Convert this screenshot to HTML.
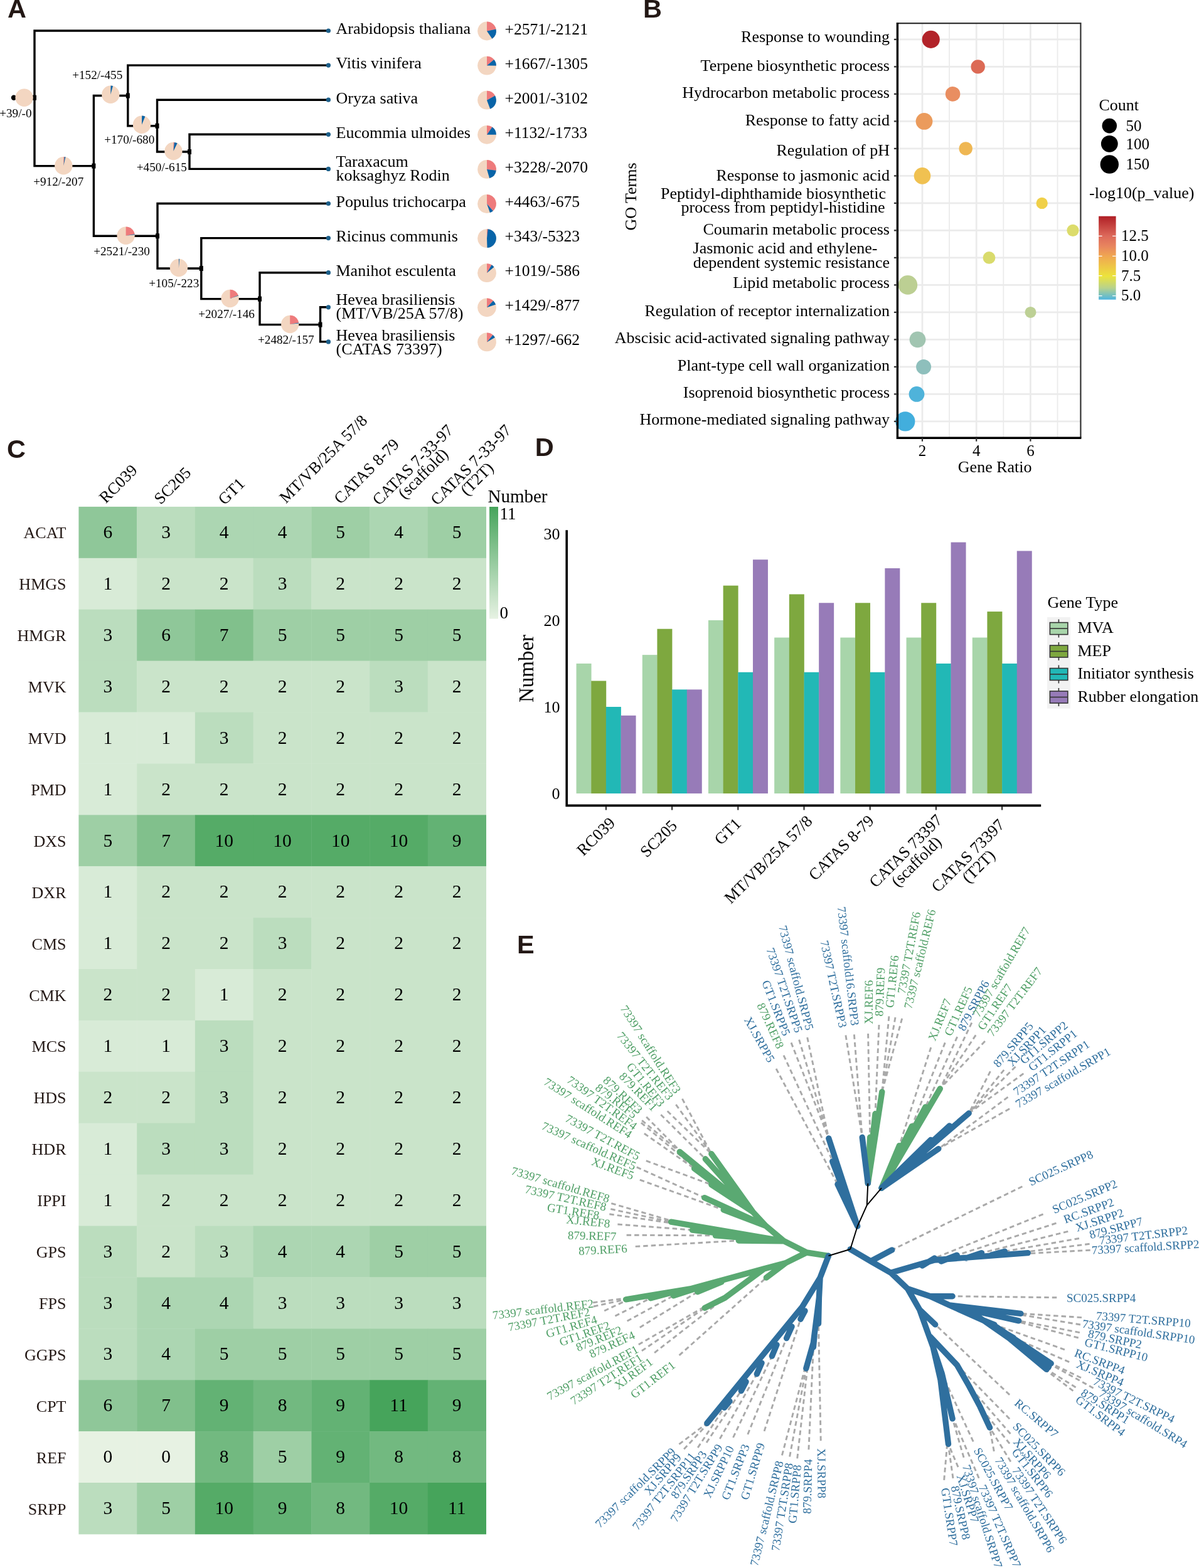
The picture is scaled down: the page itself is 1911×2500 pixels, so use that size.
<!DOCTYPE html>
<html><head><meta charset="utf-8"><title>Figure</title>
<style>html,body{margin:0;padding:0;background:#fff;}svg{display:block;}</style></head>
<body><svg width="1911" height="2500" viewBox="0 0 1911 2500" font-family="'Liberation Serif','Times New Roman',serif">
<rect width="1911" height="2500" fill="#fff"/>
<text x="12.0" y="27.9" font-size="41.5" font-weight="bold" font-family="'Liberation Sans',Arial,sans-serif" fill="#231815">A</text><text x="1025.0" y="27.9" font-size="41.5" font-weight="bold" font-family="'Liberation Sans',Arial,sans-serif" fill="#231815">B</text><text x="11.0" y="729.6" font-size="41.5" font-weight="bold" font-family="'Liberation Sans',Arial,sans-serif" fill="#231815">C</text><text x="852.8" y="726.8" font-size="41.5" font-weight="bold" font-family="'Liberation Sans',Arial,sans-serif" fill="#231815">D</text><text x="824.0" y="1520.4" font-size="41.5" font-weight="bold" font-family="'Liberation Sans',Arial,sans-serif" fill="#231815">E</text><path d="M22.0,155.7H55.0M55.0,49.0V264.6M55.0,49.0H523.4M55.0,264.6H149.4M149.4,152.5V376.3M149.4,152.5H203.8M203.8,104.1V200.7M203.8,104.1H523.4M203.8,200.7H250.5M250.5,159.2V242.0M250.5,159.2H523.4M250.5,242.0H302.0M302.0,214.3V269.4M302.0,214.3H523.4M302.0,269.4H523.4M149.4,376.3H251.0M251.0,324.5V428.0M251.0,324.5H523.4M251.0,428.0H320.8M320.8,379.6V476.6M320.8,379.6H523.4M320.8,476.6H414.0M414.0,434.7V517.6M414.0,434.7H523.4M414.0,517.6H510.5M510.5,489.8V544.9M510.5,489.8H523.4M510.5,544.9H523.4" stroke="#000" stroke-width="3.4" fill="none" stroke-linecap="square"/><rect x="52.0" y="151.7" width="6" height="8" fill="#000"/><rect x="146.4" y="260.6" width="6" height="8" fill="#000"/><rect x="200.8" y="148.5" width="6" height="8" fill="#000"/><rect x="247.5" y="196.7" width="6" height="8" fill="#000"/><rect x="299.0" y="238.0" width="6" height="8" fill="#000"/><rect x="248.0" y="372.3" width="6" height="8" fill="#000"/><rect x="317.8" y="424.0" width="6" height="8" fill="#000"/><rect x="411.0" y="472.6" width="6" height="8" fill="#000"/><rect x="507.5" y="513.6" width="6" height="8" fill="#000"/><circle cx="22" cy="155.7" r="4.2" fill="#000"/><circle cx="38.6" cy="155.7" r="14.2" fill="#f3d6c1"/><path d="M38.60,155.70L38.60,141.50A14.2,14.2 0 0 1 38.67,141.50Z" fill="#ee7b7c"/><circle cx="101.3" cy="264.2" r="14.2" fill="#f3d6c1"/><path d="M101.30,264.20L101.30,250.00A14.2,14.2 0 0 1 102.78,250.08Z" fill="#ee7b7c"/><path d="M101.30,264.20L102.78,250.08A14.2,14.2 0 0 1 104.49,250.36Z" fill="#0864a8"/><circle cx="176.3" cy="150.7" r="14.2" fill="#f3d6c1"/><path d="M176.30,150.70L176.30,136.50A14.2,14.2 0 0 1 176.55,136.50Z" fill="#ee7b7c"/><path d="M176.30,150.70L176.55,136.50A14.2,14.2 0 0 1 179.98,136.98Z" fill="#0864a8"/><circle cx="226.0" cy="198.8" r="14.2" fill="#f3d6c1"/><path d="M226.00,198.80L226.00,184.60A14.2,14.2 0 0 1 226.12,184.60Z" fill="#ee7b7c"/><path d="M226.00,198.80L226.12,184.60A14.2,14.2 0 0 1 231.32,185.63Z" fill="#0864a8"/><circle cx="276.4" cy="241.0" r="14.2" fill="#f3d6c1"/><path d="M276.40,241.00L276.40,226.80A14.2,14.2 0 0 1 277.88,226.88Z" fill="#ee7b7c"/><path d="M276.40,241.00L277.88,226.88A14.2,14.2 0 0 1 282.62,228.24Z" fill="#0864a8"/><circle cx="200.6" cy="375.7" r="14.2" fill="#f3d6c1"/><path d="M200.60,375.70L200.60,361.50A14.2,14.2 0 0 1 214.58,373.23Z" fill="#ee7b7c"/><path d="M200.60,375.70L214.58,373.23A14.2,14.2 0 0 1 214.72,374.22Z" fill="#0864a8"/><circle cx="284.9" cy="427.0" r="14.2" fill="#f3d6c1"/><path d="M284.90,427.00L284.90,412.80A14.2,14.2 0 0 1 285.02,412.80Z" fill="#ee7b7c"/><path d="M284.90,427.00L285.02,412.80A14.2,14.2 0 0 1 286.14,412.85Z" fill="#0864a8"/><circle cx="366.6" cy="476.0" r="14.2" fill="#f3d6c1"/><path d="M366.60,476.00L366.60,461.80A14.2,14.2 0 0 1 379.77,470.68Z" fill="#ee7b7c"/><path d="M366.60,476.00L379.77,470.68A14.2,14.2 0 0 1 380.03,471.38Z" fill="#0864a8"/><circle cx="462.2" cy="517.0" r="14.2" fill="#f3d6c1"/><path d="M462.20,517.00L462.20,502.80A14.2,14.2 0 0 1 476.18,514.53Z" fill="#ee7b7c"/><path d="M462.20,517.00L476.18,514.53A14.2,14.2 0 0 1 476.31,515.39Z" fill="#0864a8"/><text x="-0.8" y="187.0" font-size="19.2">+39/-0</text><text x="53.2" y="296.0" font-size="19.2">+912/-207</text><text x="115.2" y="125.7" font-size="19.2">+152/-455</text><text x="166.2" y="228.6" font-size="19.2">+170/-680</text><text x="217.8" y="273.0" font-size="19.2">+450/-615</text><text x="149.2" y="406.6" font-size="19.2">+2521/-230</text><text x="237.2" y="457.7" font-size="19.2">+105/-223</text><text x="316.2" y="507.0" font-size="19.2">+2027/-146</text><text x="411.0" y="547.5" font-size="19.2">+2482/-157</text><circle cx="523.4" cy="49.0" r="3.6" fill="#1c5f8a"/><circle cx="523.4" cy="104.1" r="3.6" fill="#1c5f8a"/><circle cx="523.4" cy="159.2" r="3.6" fill="#1c5f8a"/><circle cx="523.4" cy="214.3" r="3.6" fill="#1c5f8a"/><circle cx="523.4" cy="269.4" r="3.6" fill="#1c5f8a"/><circle cx="523.4" cy="324.5" r="3.6" fill="#1c5f8a"/><circle cx="523.4" cy="379.6" r="3.6" fill="#1c5f8a"/><circle cx="523.4" cy="434.7" r="3.6" fill="#1c5f8a"/><circle cx="523.4" cy="489.8" r="3.6" fill="#1c5f8a"/><circle cx="523.4" cy="544.9" r="3.6" fill="#1c5f8a"/><text x="535.5" y="54.3" font-size="26">Arabidopsis thaliana</text><text x="535.5" y="109.4" font-size="26">Vitis vinifera</text><text x="535.5" y="164.5" font-size="26">Oryza sativa</text><text x="535.5" y="219.6" font-size="26">Eucommia ulmoides</text><text x="535.5" y="329.8" font-size="26">Populus trichocarpa</text><text x="535.5" y="384.9" font-size="26">Ricinus communis</text><text x="535.5" y="440.0" font-size="26">Manihot esculenta</text><text x="535.5" y="265.9" font-size="26">Taraxacum</text><text x="535.5" y="287.9" font-size="26">koksaghyz Rodin</text><text x="535.5" y="486.0" font-size="26">Hevea brasiliensis</text><text x="535.5" y="508.0" font-size="26">(MT/VB/25A 57/8)</text><text x="535.5" y="543.0" font-size="26">Hevea brasiliensis</text><text x="535.5" y="565.0" font-size="26">(CATAS 73397)</text><circle cx="776.0" cy="49.5" r="14.9" fill="#f3d6c1"/><path d="M776.00,49.50L776.00,34.60A14.9,14.9 0 0 1 790.61,46.58Z" fill="#ee7b7c"/><path d="M776.00,49.50L790.61,46.58A14.9,14.9 0 0 1 784.38,61.82Z" fill="#0864a8"/><circle cx="776.0" cy="104.6" r="14.9" fill="#f3d6c1"/><path d="M776.00,104.60L776.00,89.70A14.9,14.9 0 0 1 787.40,95.00Z" fill="#ee7b7c"/><path d="M776.00,104.60L787.40,95.00A14.9,14.9 0 0 1 790.90,104.83Z" fill="#0864a8"/><circle cx="776.0" cy="159.7" r="14.9" fill="#f3d6c1"/><path d="M776.00,159.70L776.00,144.80A14.9,14.9 0 0 1 789.08,152.57Z" fill="#ee7b7c"/><path d="M776.00,159.70L789.08,152.57A14.9,14.9 0 0 1 781.24,173.65Z" fill="#0864a8"/><circle cx="776.0" cy="214.8" r="14.9" fill="#f3d6c1"/><path d="M776.00,214.80L776.00,199.90A14.9,14.9 0 0 1 784.55,202.59Z" fill="#ee7b7c"/><path d="M776.00,214.80L784.55,202.59A14.9,14.9 0 0 1 790.90,214.80Z" fill="#0864a8"/><circle cx="776.0" cy="269.9" r="14.9" fill="#f3d6c1"/><path d="M776.00,269.90L776.00,255.00A14.9,14.9 0 0 1 790.80,271.66Z" fill="#ee7b7c"/><path d="M776.00,269.90L790.80,271.66A14.9,14.9 0 0 1 780.18,284.20Z" fill="#0864a8"/><circle cx="776.0" cy="325.0" r="14.9" fill="#f3d6c1"/><path d="M776.00,325.00L776.00,310.10A14.9,14.9 0 0 1 785.89,336.14Z" fill="#ee7b7c"/><path d="M776.00,325.00L785.89,336.14A14.9,14.9 0 0 1 780.92,339.06Z" fill="#0864a8"/><circle cx="776.0" cy="380.1" r="14.9" fill="#f3d6c1"/><path d="M776.00,380.10L776.00,365.20A14.9,14.9 0 0 1 777.56,365.28Z" fill="#ee7b7c"/><path d="M776.00,380.10L777.56,365.28A14.9,14.9 0 0 1 776.52,394.99Z" fill="#0864a8"/><circle cx="776.0" cy="435.2" r="14.9" fill="#f3d6c1"/><path d="M776.00,435.20L776.00,420.30A14.9,14.9 0 0 1 783.56,422.36Z" fill="#ee7b7c"/><path d="M776.00,435.20L783.56,422.36A14.9,14.9 0 0 1 787.45,425.66Z" fill="#0864a8"/><circle cx="776.0" cy="490.3" r="14.9" fill="#f3d6c1"/><path d="M776.00,490.30L776.00,475.40A14.9,14.9 0 0 1 786.14,479.39Z" fill="#ee7b7c"/><path d="M776.00,490.30L786.14,479.39A14.9,14.9 0 0 1 790.15,485.62Z" fill="#0864a8"/><circle cx="776.0" cy="545.4" r="14.9" fill="#f3d6c1"/><path d="M776.00,545.40L776.00,530.50A14.9,14.9 0 0 1 785.54,533.95Z" fill="#ee7b7c"/><path d="M776.00,545.40L785.54,533.95A14.9,14.9 0 0 1 788.94,538.02Z" fill="#0864a8"/><text x="804.5" y="54.5" font-size="25.6">+2571/-2121</text><text x="804.5" y="109.6" font-size="25.6">+1667/-1305</text><text x="804.5" y="164.7" font-size="25.6">+2001/-3102</text><text x="804.5" y="219.8" font-size="25.6">+1132/-1733</text><text x="804.5" y="274.9" font-size="25.6">+3228/-2070</text><text x="804.5" y="330.0" font-size="25.6">+4463/-675</text><text x="804.5" y="385.1" font-size="25.6">+343/-5323</text><text x="804.5" y="440.2" font-size="25.6">+1019/-586</text><text x="804.5" y="495.3" font-size="25.6">+1429/-877</text><text x="804.5" y="550.4" font-size="25.6">+1297/-662</text><path d="M1513.1,37.1V698.2M1599.3,37.1V698.2M1685.5,37.1V698.2" stroke="#ebebeb" stroke-width="1.8" fill="none"/><path d="M1470.0,37.1V698.2M1556.2,37.1V698.2M1642.4,37.1V698.2M1430.4,62.9H1722.4M1430.4,106.4H1722.4M1430.4,149.9H1722.4M1430.4,193.4H1722.4M1430.4,236.9H1722.4M1430.4,280.4H1722.4M1430.4,323.9H1722.4M1430.4,367.4H1722.4M1430.4,410.9H1722.4M1430.4,454.4H1722.4M1430.4,497.9H1722.4M1430.4,541.4H1722.4M1430.4,584.9H1722.4M1430.4,628.4H1722.4M1430.4,671.9H1722.4" stroke="#ebebeb" stroke-width="2.8" fill="none"/><circle cx="1483.7" cy="62.9" r="14.1" fill="#b22329"/><circle cx="1558.7" cy="106.4" r="11.2" fill="#dc6a55"/><circle cx="1518.6" cy="149.9" r="11.8" fill="#e98e61"/><circle cx="1473" cy="193.4" r="13.4" fill="#eb9b5c"/><circle cx="1539.2" cy="236.9" r="10.7" fill="#efb753"/><circle cx="1470" cy="280.4" r="13.3" fill="#f0c151"/><circle cx="1660.7" cy="323.9" r="9.2" fill="#f0d049"/><circle cx="1710" cy="367.4" r="9.6" fill="#dcdc6b"/><circle cx="1576.5" cy="410.9" r="9.9" fill="#d9db6c"/><circle cx="1446.9" cy="454.4" r="15.3" fill="#bccf93"/><circle cx="1642.5" cy="497.9" r="9.0" fill="#bdd095"/><circle cx="1462.5" cy="541.4" r="12.9" fill="#a1c5b1"/><circle cx="1472.1" cy="584.9" r="12.0" fill="#8ebfbc"/><circle cx="1461" cy="628.4" r="12.4" fill="#4fb3da"/><circle cx="1442.8" cy="671.9" r="15.6" fill="#42aedd"/><path d="M1430.4,37.1H1722.4V698.2" stroke="#333" stroke-width="2.2" fill="none"/><path d="M1430.4,36.1V698.2H1723.4" stroke="#000" stroke-width="3.4" fill="none"/><path d="M1424.9,62.9H1430.4M1424.9,106.4H1430.4M1424.9,149.9H1430.4M1424.9,193.4H1430.4M1424.9,236.9H1430.4M1424.9,280.4H1430.4M1424.9,323.9H1430.4M1424.9,367.4H1430.4M1424.9,410.9H1430.4M1424.9,454.4H1430.4M1424.9,497.9H1430.4M1424.9,541.4H1430.4M1424.9,584.9H1430.4M1424.9,628.4H1430.4M1424.9,671.9H1430.4M1470.0,698.2V703.7M1556.2,698.2V703.7M1642.4,698.2V703.7" stroke="#333" stroke-width="2.2" fill="none"/><text x="1418.0" y="66.5" font-size="26" text-anchor="end">Response to wounding</text><text x="1418.0" y="112.7" font-size="26" text-anchor="end">Terpene biosynthetic process</text><text x="1418.0" y="156.3" font-size="26" text-anchor="end">Hydrocarbon metabolic process</text><text x="1418.0" y="200.4" font-size="26" text-anchor="end">Response to fatty acid</text><text x="1418.0" y="247.7" font-size="26" text-anchor="end">Regulation of pH</text><text x="1418.0" y="287.9" font-size="26" text-anchor="end">Response to jasmonic acid</text><text x="1418.0" y="373.5" font-size="26" text-anchor="end">Coumarin metabolic process</text><text x="1418.0" y="459.0" font-size="26" text-anchor="end">Lipid metabolic process</text><text x="1418.0" y="504.2" font-size="26" text-anchor="end">Regulation of receptor internalization</text><text x="1418.0" y="547.2" font-size="26" text-anchor="end">Abscisic acid-activated signaling pathway</text><text x="1418.0" y="591.0" font-size="26" text-anchor="end">Plant-type cell wall organization</text><text x="1418.0" y="633.8" font-size="26" text-anchor="end">Isoprenoid biosynthetic process</text><text x="1418.0" y="676.7" font-size="26" text-anchor="end">Hormone-mediated signaling pathway</text><text x="1412.0" y="317.0" font-size="26" text-anchor="end">Peptidyl-diphthamide biosynthetic</text><text x="1410.5" y="339.0" font-size="26" text-anchor="end">process from peptidyl-histidine</text><text x="1104.6" y="404.3" font-size="26">Jasmonic acid and ethylene-</text><text x="1418.0" y="427.0" font-size="26" text-anchor="end">dependent systemic resistance</text><text x="1470.0" y="727.0" font-size="25" text-anchor="middle">2</text><text x="1556.2" y="727.0" font-size="25" text-anchor="middle">4</text><text x="1642.4" y="727.0" font-size="25" text-anchor="middle">6</text><text x="1585.7" y="752.8" font-size="26" text-anchor="middle">Gene Ratio</text><text x="1014.2" y="313.5" font-size="26" text-anchor="middle" transform="rotate(-90 1014.2 313.5)">GO Terms</text><text x="1751.5" y="176.4" font-size="26">Count</text><circle cx="1768.3" cy="200.6" r="11.8" fill="#000"/><text x="1794.5" y="208.8" font-size="25">50</text><circle cx="1768.3" cy="229.3" r="13.4" fill="#000"/><text x="1794.5" y="237.5" font-size="25">100</text><circle cx="1768.3" cy="262" r="14.7" fill="#000"/><text x="1794.5" y="270.2" font-size="25">150</text><text x="1736.0" y="316.0" font-size="26">-log10(p_value)</text><defs><linearGradient id="pv" x1="0" y1="0" x2="0" y2="1"><stop offset="0" stop-color="#b01f26"/><stop offset="0.24" stop-color="#dd6a5b"/><stop offset="0.36" stop-color="#e8855e"/><stop offset="0.48" stop-color="#f0a751"/><stop offset="0.72" stop-color="#ece33c"/><stop offset="0.86" stop-color="#b8d28c"/><stop offset="1" stop-color="#4fb5e0"/></linearGradient></defs><rect x="1751.1" y="344.7" width="27.5" height="133" fill="url(#pv)"/><path d="M1751.1,376.3h5.5M1773.1,376.3h5.5M1751.1,408.3h5.5M1773.1,408.3h5.5M1751.1,439.7h5.5M1773.1,439.7h5.5M1751.1,471.6h5.5M1773.1,471.6h5.5" stroke="#fff" stroke-width="1.2"/><text x="1787.0" y="384.0" font-size="25">12.5</text><text x="1787.0" y="416.0" font-size="25">10.0</text><text x="1787.0" y="447.9" font-size="25">7.5</text><text x="1787.0" y="479.0" font-size="25">5.0</text><rect x="125.40" y="807.90" width="93.14" height="82.30" fill="#8fc799"/><rect x="218.14" y="807.90" width="93.14" height="82.30" fill="#bbddbe"/><rect x="310.88" y="807.90" width="93.14" height="82.30" fill="#acd6b2"/><rect x="403.62" y="807.90" width="93.14" height="82.30" fill="#acd6b2"/><rect x="496.36" y="807.90" width="93.14" height="82.30" fill="#9ecfa5"/><rect x="589.10" y="807.90" width="93.14" height="82.30" fill="#acd6b2"/><rect x="681.84" y="807.90" width="93.14" height="82.30" fill="#9ecfa5"/><rect x="125.40" y="889.80" width="93.14" height="82.30" fill="#d8ebd7"/><rect x="218.14" y="889.80" width="93.14" height="82.30" fill="#cae4ca"/><rect x="310.88" y="889.80" width="93.14" height="82.30" fill="#cae4ca"/><rect x="403.62" y="889.80" width="93.14" height="82.30" fill="#bbddbe"/><rect x="496.36" y="889.80" width="93.14" height="82.30" fill="#cae4ca"/><rect x="589.10" y="889.80" width="93.14" height="82.30" fill="#cae4ca"/><rect x="681.84" y="889.80" width="93.14" height="82.30" fill="#cae4ca"/><rect x="125.40" y="971.70" width="93.14" height="82.30" fill="#bbddbe"/><rect x="218.14" y="971.70" width="93.14" height="82.30" fill="#8fc799"/><rect x="310.88" y="971.70" width="93.14" height="82.30" fill="#81c08c"/><rect x="403.62" y="971.70" width="93.14" height="82.30" fill="#9ecfa5"/><rect x="496.36" y="971.70" width="93.14" height="82.30" fill="#9ecfa5"/><rect x="589.10" y="971.70" width="93.14" height="82.30" fill="#9ecfa5"/><rect x="681.84" y="971.70" width="93.14" height="82.30" fill="#9ecfa5"/><rect x="125.40" y="1053.60" width="93.14" height="82.30" fill="#bbddbe"/><rect x="218.14" y="1053.60" width="93.14" height="82.30" fill="#cae4ca"/><rect x="310.88" y="1053.60" width="93.14" height="82.30" fill="#cae4ca"/><rect x="403.62" y="1053.60" width="93.14" height="82.30" fill="#cae4ca"/><rect x="496.36" y="1053.60" width="93.14" height="82.30" fill="#cae4ca"/><rect x="589.10" y="1053.60" width="93.14" height="82.30" fill="#bbddbe"/><rect x="681.84" y="1053.60" width="93.14" height="82.30" fill="#cae4ca"/><rect x="125.40" y="1135.50" width="93.14" height="82.30" fill="#d8ebd7"/><rect x="218.14" y="1135.50" width="93.14" height="82.30" fill="#d8ebd7"/><rect x="310.88" y="1135.50" width="93.14" height="82.30" fill="#bbddbe"/><rect x="403.62" y="1135.50" width="93.14" height="82.30" fill="#cae4ca"/><rect x="496.36" y="1135.50" width="93.14" height="82.30" fill="#cae4ca"/><rect x="589.10" y="1135.50" width="93.14" height="82.30" fill="#cae4ca"/><rect x="681.84" y="1135.50" width="93.14" height="82.30" fill="#cae4ca"/><rect x="125.40" y="1217.40" width="93.14" height="82.30" fill="#d8ebd7"/><rect x="218.14" y="1217.40" width="93.14" height="82.30" fill="#cae4ca"/><rect x="310.88" y="1217.40" width="93.14" height="82.30" fill="#cae4ca"/><rect x="403.62" y="1217.40" width="93.14" height="82.30" fill="#cae4ca"/><rect x="496.36" y="1217.40" width="93.14" height="82.30" fill="#cae4ca"/><rect x="589.10" y="1217.40" width="93.14" height="82.30" fill="#cae4ca"/><rect x="681.84" y="1217.40" width="93.14" height="82.30" fill="#cae4ca"/><rect x="125.40" y="1299.30" width="93.14" height="82.30" fill="#9ecfa5"/><rect x="218.14" y="1299.30" width="93.14" height="82.30" fill="#81c08c"/><rect x="310.88" y="1299.30" width="93.14" height="82.30" fill="#55ab67"/><rect x="403.62" y="1299.30" width="93.14" height="82.30" fill="#55ab67"/><rect x="496.36" y="1299.30" width="93.14" height="82.30" fill="#55ab67"/><rect x="589.10" y="1299.30" width="93.14" height="82.30" fill="#55ab67"/><rect x="681.84" y="1299.30" width="93.14" height="82.30" fill="#63b274"/><rect x="125.40" y="1381.20" width="93.14" height="82.30" fill="#d8ebd7"/><rect x="218.14" y="1381.20" width="93.14" height="82.30" fill="#cae4ca"/><rect x="310.88" y="1381.20" width="93.14" height="82.30" fill="#cae4ca"/><rect x="403.62" y="1381.20" width="93.14" height="82.30" fill="#cae4ca"/><rect x="496.36" y="1381.20" width="93.14" height="82.30" fill="#cae4ca"/><rect x="589.10" y="1381.20" width="93.14" height="82.30" fill="#cae4ca"/><rect x="681.84" y="1381.20" width="93.14" height="82.30" fill="#cae4ca"/><rect x="125.40" y="1463.10" width="93.14" height="82.30" fill="#d8ebd7"/><rect x="218.14" y="1463.10" width="93.14" height="82.30" fill="#cae4ca"/><rect x="310.88" y="1463.10" width="93.14" height="82.30" fill="#cae4ca"/><rect x="403.62" y="1463.10" width="93.14" height="82.30" fill="#bbddbe"/><rect x="496.36" y="1463.10" width="93.14" height="82.30" fill="#cae4ca"/><rect x="589.10" y="1463.10" width="93.14" height="82.30" fill="#cae4ca"/><rect x="681.84" y="1463.10" width="93.14" height="82.30" fill="#cae4ca"/><rect x="125.40" y="1545.00" width="93.14" height="82.30" fill="#cae4ca"/><rect x="218.14" y="1545.00" width="93.14" height="82.30" fill="#cae4ca"/><rect x="310.88" y="1545.00" width="93.14" height="82.30" fill="#d8ebd7"/><rect x="403.62" y="1545.00" width="93.14" height="82.30" fill="#cae4ca"/><rect x="496.36" y="1545.00" width="93.14" height="82.30" fill="#cae4ca"/><rect x="589.10" y="1545.00" width="93.14" height="82.30" fill="#cae4ca"/><rect x="681.84" y="1545.00" width="93.14" height="82.30" fill="#cae4ca"/><rect x="125.40" y="1626.90" width="93.14" height="82.30" fill="#d8ebd7"/><rect x="218.14" y="1626.90" width="93.14" height="82.30" fill="#d8ebd7"/><rect x="310.88" y="1626.90" width="93.14" height="82.30" fill="#bbddbe"/><rect x="403.62" y="1626.90" width="93.14" height="82.30" fill="#cae4ca"/><rect x="496.36" y="1626.90" width="93.14" height="82.30" fill="#cae4ca"/><rect x="589.10" y="1626.90" width="93.14" height="82.30" fill="#cae4ca"/><rect x="681.84" y="1626.90" width="93.14" height="82.30" fill="#cae4ca"/><rect x="125.40" y="1708.80" width="93.14" height="82.30" fill="#cae4ca"/><rect x="218.14" y="1708.80" width="93.14" height="82.30" fill="#cae4ca"/><rect x="310.88" y="1708.80" width="93.14" height="82.30" fill="#bbddbe"/><rect x="403.62" y="1708.80" width="93.14" height="82.30" fill="#cae4ca"/><rect x="496.36" y="1708.80" width="93.14" height="82.30" fill="#cae4ca"/><rect x="589.10" y="1708.80" width="93.14" height="82.30" fill="#cae4ca"/><rect x="681.84" y="1708.80" width="93.14" height="82.30" fill="#cae4ca"/><rect x="125.40" y="1790.70" width="93.14" height="82.30" fill="#d8ebd7"/><rect x="218.14" y="1790.70" width="93.14" height="82.30" fill="#bbddbe"/><rect x="310.88" y="1790.70" width="93.14" height="82.30" fill="#bbddbe"/><rect x="403.62" y="1790.70" width="93.14" height="82.30" fill="#cae4ca"/><rect x="496.36" y="1790.70" width="93.14" height="82.30" fill="#cae4ca"/><rect x="589.10" y="1790.70" width="93.14" height="82.30" fill="#cae4ca"/><rect x="681.84" y="1790.70" width="93.14" height="82.30" fill="#cae4ca"/><rect x="125.40" y="1872.60" width="93.14" height="82.30" fill="#d8ebd7"/><rect x="218.14" y="1872.60" width="93.14" height="82.30" fill="#cae4ca"/><rect x="310.88" y="1872.60" width="93.14" height="82.30" fill="#cae4ca"/><rect x="403.62" y="1872.60" width="93.14" height="82.30" fill="#cae4ca"/><rect x="496.36" y="1872.60" width="93.14" height="82.30" fill="#cae4ca"/><rect x="589.10" y="1872.60" width="93.14" height="82.30" fill="#cae4ca"/><rect x="681.84" y="1872.60" width="93.14" height="82.30" fill="#cae4ca"/><rect x="125.40" y="1954.50" width="93.14" height="82.30" fill="#bbddbe"/><rect x="218.14" y="1954.50" width="93.14" height="82.30" fill="#cae4ca"/><rect x="310.88" y="1954.50" width="93.14" height="82.30" fill="#bbddbe"/><rect x="403.62" y="1954.50" width="93.14" height="82.30" fill="#acd6b2"/><rect x="496.36" y="1954.50" width="93.14" height="82.30" fill="#acd6b2"/><rect x="589.10" y="1954.50" width="93.14" height="82.30" fill="#9ecfa5"/><rect x="681.84" y="1954.50" width="93.14" height="82.30" fill="#9ecfa5"/><rect x="125.40" y="2036.40" width="93.14" height="82.30" fill="#bbddbe"/><rect x="218.14" y="2036.40" width="93.14" height="82.30" fill="#acd6b2"/><rect x="310.88" y="2036.40" width="93.14" height="82.30" fill="#acd6b2"/><rect x="403.62" y="2036.40" width="93.14" height="82.30" fill="#bbddbe"/><rect x="496.36" y="2036.40" width="93.14" height="82.30" fill="#bbddbe"/><rect x="589.10" y="2036.40" width="93.14" height="82.30" fill="#bbddbe"/><rect x="681.84" y="2036.40" width="93.14" height="82.30" fill="#bbddbe"/><rect x="125.40" y="2118.30" width="93.14" height="82.30" fill="#bbddbe"/><rect x="218.14" y="2118.30" width="93.14" height="82.30" fill="#acd6b2"/><rect x="310.88" y="2118.30" width="93.14" height="82.30" fill="#9ecfa5"/><rect x="403.62" y="2118.30" width="93.14" height="82.30" fill="#9ecfa5"/><rect x="496.36" y="2118.30" width="93.14" height="82.30" fill="#9ecfa5"/><rect x="589.10" y="2118.30" width="93.14" height="82.30" fill="#9ecfa5"/><rect x="681.84" y="2118.30" width="93.14" height="82.30" fill="#9ecfa5"/><rect x="125.40" y="2200.20" width="93.14" height="82.30" fill="#8fc799"/><rect x="218.14" y="2200.20" width="93.14" height="82.30" fill="#81c08c"/><rect x="310.88" y="2200.20" width="93.14" height="82.30" fill="#63b274"/><rect x="403.62" y="2200.20" width="93.14" height="82.30" fill="#72b980"/><rect x="496.36" y="2200.20" width="93.14" height="82.30" fill="#63b274"/><rect x="589.10" y="2200.20" width="93.14" height="82.30" fill="#46a45b"/><rect x="681.84" y="2200.20" width="93.14" height="82.30" fill="#63b274"/><rect x="125.40" y="2282.10" width="93.14" height="82.30" fill="#e7f2e3"/><rect x="218.14" y="2282.10" width="93.14" height="82.30" fill="#e7f2e3"/><rect x="310.88" y="2282.10" width="93.14" height="82.30" fill="#72b980"/><rect x="403.62" y="2282.10" width="93.14" height="82.30" fill="#9ecfa5"/><rect x="496.36" y="2282.10" width="93.14" height="82.30" fill="#63b274"/><rect x="589.10" y="2282.10" width="93.14" height="82.30" fill="#72b980"/><rect x="681.84" y="2282.10" width="93.14" height="82.30" fill="#72b980"/><rect x="125.40" y="2364.00" width="93.14" height="82.30" fill="#bbddbe"/><rect x="218.14" y="2364.00" width="93.14" height="82.30" fill="#9ecfa5"/><rect x="310.88" y="2364.00" width="93.14" height="82.30" fill="#55ab67"/><rect x="403.62" y="2364.00" width="93.14" height="82.30" fill="#63b274"/><rect x="496.36" y="2364.00" width="93.14" height="82.30" fill="#72b980"/><rect x="589.10" y="2364.00" width="93.14" height="82.30" fill="#55ab67"/><rect x="681.84" y="2364.00" width="93.14" height="82.30" fill="#46a45b"/><text x="105.5" y="858.4" font-size="26" text-anchor="end" fill="#231815">ACAT</text><text x="171.8" y="858.1" font-size="29.5" text-anchor="middle">6</text><text x="264.5" y="858.1" font-size="29.5" text-anchor="middle">3</text><text x="357.2" y="858.1" font-size="29.5" text-anchor="middle">4</text><text x="450.0" y="858.1" font-size="29.5" text-anchor="middle">4</text><text x="542.7" y="858.1" font-size="29.5" text-anchor="middle">5</text><text x="635.5" y="858.1" font-size="29.5" text-anchor="middle">4</text><text x="728.2" y="858.1" font-size="29.5" text-anchor="middle">5</text><text x="105.5" y="940.2" font-size="26" text-anchor="end" fill="#231815">HMGS</text><text x="171.8" y="940.0" font-size="29.5" text-anchor="middle">1</text><text x="264.5" y="940.0" font-size="29.5" text-anchor="middle">2</text><text x="357.2" y="940.0" font-size="29.5" text-anchor="middle">2</text><text x="450.0" y="940.0" font-size="29.5" text-anchor="middle">3</text><text x="542.7" y="940.0" font-size="29.5" text-anchor="middle">2</text><text x="635.5" y="940.0" font-size="29.5" text-anchor="middle">2</text><text x="728.2" y="940.0" font-size="29.5" text-anchor="middle">2</text><text x="105.5" y="1022.1" font-size="26" text-anchor="end" fill="#231815">HMGR</text><text x="171.8" y="1021.9" font-size="29.5" text-anchor="middle">3</text><text x="264.5" y="1021.9" font-size="29.5" text-anchor="middle">6</text><text x="357.2" y="1021.9" font-size="29.5" text-anchor="middle">7</text><text x="450.0" y="1021.9" font-size="29.5" text-anchor="middle">5</text><text x="542.7" y="1021.9" font-size="29.5" text-anchor="middle">5</text><text x="635.5" y="1021.9" font-size="29.5" text-anchor="middle">5</text><text x="728.2" y="1021.9" font-size="29.5" text-anchor="middle">5</text><text x="105.5" y="1104.0" font-size="26" text-anchor="end" fill="#231815">MVK</text><text x="171.8" y="1103.8" font-size="29.5" text-anchor="middle">3</text><text x="264.5" y="1103.8" font-size="29.5" text-anchor="middle">2</text><text x="357.2" y="1103.8" font-size="29.5" text-anchor="middle">2</text><text x="450.0" y="1103.8" font-size="29.5" text-anchor="middle">2</text><text x="542.7" y="1103.8" font-size="29.5" text-anchor="middle">2</text><text x="635.5" y="1103.8" font-size="29.5" text-anchor="middle">3</text><text x="728.2" y="1103.8" font-size="29.5" text-anchor="middle">2</text><text x="105.5" y="1186.0" font-size="26" text-anchor="end" fill="#231815">MVD</text><text x="171.8" y="1185.7" font-size="29.5" text-anchor="middle">1</text><text x="264.5" y="1185.7" font-size="29.5" text-anchor="middle">1</text><text x="357.2" y="1185.7" font-size="29.5" text-anchor="middle">3</text><text x="450.0" y="1185.7" font-size="29.5" text-anchor="middle">2</text><text x="542.7" y="1185.7" font-size="29.5" text-anchor="middle">2</text><text x="635.5" y="1185.7" font-size="29.5" text-anchor="middle">2</text><text x="728.2" y="1185.7" font-size="29.5" text-anchor="middle">2</text><text x="105.5" y="1267.8" font-size="26" text-anchor="end" fill="#231815">PMD</text><text x="171.8" y="1267.5" font-size="29.5" text-anchor="middle">1</text><text x="264.5" y="1267.5" font-size="29.5" text-anchor="middle">2</text><text x="357.2" y="1267.5" font-size="29.5" text-anchor="middle">2</text><text x="450.0" y="1267.5" font-size="29.5" text-anchor="middle">2</text><text x="542.7" y="1267.5" font-size="29.5" text-anchor="middle">2</text><text x="635.5" y="1267.5" font-size="29.5" text-anchor="middle">2</text><text x="728.2" y="1267.5" font-size="29.5" text-anchor="middle">2</text><text x="105.5" y="1349.8" font-size="26" text-anchor="end" fill="#231815">DXS</text><text x="171.8" y="1349.5" font-size="29.5" text-anchor="middle">5</text><text x="264.5" y="1349.5" font-size="29.5" text-anchor="middle">7</text><text x="357.2" y="1349.5" font-size="29.5" text-anchor="middle">10</text><text x="450.0" y="1349.5" font-size="29.5" text-anchor="middle">10</text><text x="542.7" y="1349.5" font-size="29.5" text-anchor="middle">10</text><text x="635.5" y="1349.5" font-size="29.5" text-anchor="middle">10</text><text x="728.2" y="1349.5" font-size="29.5" text-anchor="middle">9</text><text x="105.5" y="1431.7" font-size="26" text-anchor="end" fill="#231815">DXR</text><text x="171.8" y="1431.4" font-size="29.5" text-anchor="middle">1</text><text x="264.5" y="1431.4" font-size="29.5" text-anchor="middle">2</text><text x="357.2" y="1431.4" font-size="29.5" text-anchor="middle">2</text><text x="450.0" y="1431.4" font-size="29.5" text-anchor="middle">2</text><text x="542.7" y="1431.4" font-size="29.5" text-anchor="middle">2</text><text x="635.5" y="1431.4" font-size="29.5" text-anchor="middle">2</text><text x="728.2" y="1431.4" font-size="29.5" text-anchor="middle">2</text><text x="105.5" y="1513.6" font-size="26" text-anchor="end" fill="#231815">CMS</text><text x="171.8" y="1513.3" font-size="29.5" text-anchor="middle">1</text><text x="264.5" y="1513.3" font-size="29.5" text-anchor="middle">2</text><text x="357.2" y="1513.3" font-size="29.5" text-anchor="middle">2</text><text x="450.0" y="1513.3" font-size="29.5" text-anchor="middle">3</text><text x="542.7" y="1513.3" font-size="29.5" text-anchor="middle">2</text><text x="635.5" y="1513.3" font-size="29.5" text-anchor="middle">2</text><text x="728.2" y="1513.3" font-size="29.5" text-anchor="middle">2</text><text x="105.5" y="1595.5" font-size="26" text-anchor="end" fill="#231815">CMK</text><text x="171.8" y="1595.2" font-size="29.5" text-anchor="middle">2</text><text x="264.5" y="1595.2" font-size="29.5" text-anchor="middle">2</text><text x="357.2" y="1595.2" font-size="29.5" text-anchor="middle">1</text><text x="450.0" y="1595.2" font-size="29.5" text-anchor="middle">2</text><text x="542.7" y="1595.2" font-size="29.5" text-anchor="middle">2</text><text x="635.5" y="1595.2" font-size="29.5" text-anchor="middle">2</text><text x="728.2" y="1595.2" font-size="29.5" text-anchor="middle">2</text><text x="105.5" y="1677.3" font-size="26" text-anchor="end" fill="#231815">MCS</text><text x="171.8" y="1677.0" font-size="29.5" text-anchor="middle">1</text><text x="264.5" y="1677.0" font-size="29.5" text-anchor="middle">1</text><text x="357.2" y="1677.0" font-size="29.5" text-anchor="middle">3</text><text x="450.0" y="1677.0" font-size="29.5" text-anchor="middle">2</text><text x="542.7" y="1677.0" font-size="29.5" text-anchor="middle">2</text><text x="635.5" y="1677.0" font-size="29.5" text-anchor="middle">2</text><text x="728.2" y="1677.0" font-size="29.5" text-anchor="middle">2</text><text x="105.5" y="1759.2" font-size="26" text-anchor="end" fill="#231815">HDS</text><text x="171.8" y="1759.0" font-size="29.5" text-anchor="middle">2</text><text x="264.5" y="1759.0" font-size="29.5" text-anchor="middle">2</text><text x="357.2" y="1759.0" font-size="29.5" text-anchor="middle">3</text><text x="450.0" y="1759.0" font-size="29.5" text-anchor="middle">2</text><text x="542.7" y="1759.0" font-size="29.5" text-anchor="middle">2</text><text x="635.5" y="1759.0" font-size="29.5" text-anchor="middle">2</text><text x="728.2" y="1759.0" font-size="29.5" text-anchor="middle">2</text><text x="105.5" y="1841.2" font-size="26" text-anchor="end" fill="#231815">HDR</text><text x="171.8" y="1840.9" font-size="29.5" text-anchor="middle">1</text><text x="264.5" y="1840.9" font-size="29.5" text-anchor="middle">3</text><text x="357.2" y="1840.9" font-size="29.5" text-anchor="middle">3</text><text x="450.0" y="1840.9" font-size="29.5" text-anchor="middle">2</text><text x="542.7" y="1840.9" font-size="29.5" text-anchor="middle">2</text><text x="635.5" y="1840.9" font-size="29.5" text-anchor="middle">2</text><text x="728.2" y="1840.9" font-size="29.5" text-anchor="middle">2</text><text x="105.5" y="1923.1" font-size="26" text-anchor="end" fill="#231815">IPPI</text><text x="171.8" y="1922.8" font-size="29.5" text-anchor="middle">1</text><text x="264.5" y="1922.8" font-size="29.5" text-anchor="middle">2</text><text x="357.2" y="1922.8" font-size="29.5" text-anchor="middle">2</text><text x="450.0" y="1922.8" font-size="29.5" text-anchor="middle">2</text><text x="542.7" y="1922.8" font-size="29.5" text-anchor="middle">2</text><text x="635.5" y="1922.8" font-size="29.5" text-anchor="middle">2</text><text x="728.2" y="1922.8" font-size="29.5" text-anchor="middle">2</text><text x="105.5" y="2005.0" font-size="26" text-anchor="end" fill="#231815">GPS</text><text x="171.8" y="2004.7" font-size="29.5" text-anchor="middle">3</text><text x="264.5" y="2004.7" font-size="29.5" text-anchor="middle">2</text><text x="357.2" y="2004.7" font-size="29.5" text-anchor="middle">3</text><text x="450.0" y="2004.7" font-size="29.5" text-anchor="middle">4</text><text x="542.7" y="2004.7" font-size="29.5" text-anchor="middle">4</text><text x="635.5" y="2004.7" font-size="29.5" text-anchor="middle">5</text><text x="728.2" y="2004.7" font-size="29.5" text-anchor="middle">5</text><text x="105.5" y="2086.8" font-size="26" text-anchor="end" fill="#231815">FPS</text><text x="171.8" y="2086.5" font-size="29.5" text-anchor="middle">3</text><text x="264.5" y="2086.5" font-size="29.5" text-anchor="middle">4</text><text x="357.2" y="2086.5" font-size="29.5" text-anchor="middle">4</text><text x="450.0" y="2086.5" font-size="29.5" text-anchor="middle">3</text><text x="542.7" y="2086.5" font-size="29.5" text-anchor="middle">3</text><text x="635.5" y="2086.5" font-size="29.5" text-anchor="middle">3</text><text x="728.2" y="2086.5" font-size="29.5" text-anchor="middle">3</text><text x="105.5" y="2168.8" font-size="26" text-anchor="end" fill="#231815">GGPS</text><text x="171.8" y="2168.4" font-size="29.5" text-anchor="middle">3</text><text x="264.5" y="2168.4" font-size="29.5" text-anchor="middle">4</text><text x="357.2" y="2168.4" font-size="29.5" text-anchor="middle">5</text><text x="450.0" y="2168.4" font-size="29.5" text-anchor="middle">5</text><text x="542.7" y="2168.4" font-size="29.5" text-anchor="middle">5</text><text x="635.5" y="2168.4" font-size="29.5" text-anchor="middle">5</text><text x="728.2" y="2168.4" font-size="29.5" text-anchor="middle">5</text><text x="105.5" y="2250.7" font-size="26" text-anchor="end" fill="#231815">CPT</text><text x="171.8" y="2250.3" font-size="29.5" text-anchor="middle">6</text><text x="264.5" y="2250.3" font-size="29.5" text-anchor="middle">7</text><text x="357.2" y="2250.3" font-size="29.5" text-anchor="middle">9</text><text x="450.0" y="2250.3" font-size="29.5" text-anchor="middle">8</text><text x="542.7" y="2250.3" font-size="29.5" text-anchor="middle">9</text><text x="635.5" y="2250.3" font-size="29.5" text-anchor="middle">11</text><text x="728.2" y="2250.3" font-size="29.5" text-anchor="middle">9</text><text x="105.5" y="2332.6" font-size="26" text-anchor="end" fill="#231815">REF</text><text x="171.8" y="2332.2" font-size="29.5" text-anchor="middle">0</text><text x="264.5" y="2332.2" font-size="29.5" text-anchor="middle">0</text><text x="357.2" y="2332.2" font-size="29.5" text-anchor="middle">8</text><text x="450.0" y="2332.2" font-size="29.5" text-anchor="middle">5</text><text x="542.7" y="2332.2" font-size="29.5" text-anchor="middle">9</text><text x="635.5" y="2332.2" font-size="29.5" text-anchor="middle">8</text><text x="728.2" y="2332.2" font-size="29.5" text-anchor="middle">8</text><text x="105.5" y="2414.5" font-size="26" text-anchor="end" fill="#231815">SRPP</text><text x="171.8" y="2414.2" font-size="29.5" text-anchor="middle">3</text><text x="264.5" y="2414.2" font-size="29.5" text-anchor="middle">5</text><text x="357.2" y="2414.2" font-size="29.5" text-anchor="middle">10</text><text x="450.0" y="2414.2" font-size="29.5" text-anchor="middle">9</text><text x="542.7" y="2414.2" font-size="29.5" text-anchor="middle">8</text><text x="635.5" y="2414.2" font-size="29.5" text-anchor="middle">10</text><text x="728.2" y="2414.2" font-size="29.5" text-anchor="middle">11</text><g transform="translate(168.4,803.4) rotate(-45)"><text x="0.0" y="0.0" font-size="26">RC039</text></g><g transform="translate(256.0,805.3) rotate(-45)"><text x="0.0" y="0.0" font-size="26">SC205</text></g><g transform="translate(357.9,806.3) rotate(-45)"><text x="0.0" y="0.0" font-size="26">GT1</text></g><g transform="translate(455.7,803.4) rotate(-45)"><text x="0.0" y="0.0" font-size="26">MT/VB/25A 57/8</text></g><g transform="translate(542.7,805.0) rotate(-45)"><text x="0.0" y="0.0" font-size="26">CATAS 8-79</text></g><g transform="translate(663.8,747.3) rotate(-45)"><text x="0.0" y="0.0" font-size="26" text-anchor="middle">CATAS 7-33-97</text></g><g transform="translate(680.4,761.1) rotate(-45)"><text x="0.0" y="0.0" font-size="26" text-anchor="middle">(scaffold)</text></g><g transform="translate(756.5,747.3) rotate(-45)"><text x="0.0" y="0.0" font-size="26" text-anchor="middle">CATAS 7-33-97</text></g><g transform="translate(766.2,769.6) rotate(-45)"><text x="0.0" y="0.0" font-size="26" text-anchor="middle">(T2T)</text></g><text x="777.5" y="801.0" font-size="29">Number</text><defs><linearGradient id="hg" x1="0" y1="0" x2="0" y2="1"><stop offset="0" stop-color="#46a45b"/><stop offset="1" stop-color="#e7f2e3"/></linearGradient></defs><rect x="780" y="808" width="14" height="178.6" fill="url(#hg)"/><text x="796.5" y="827.7" font-size="27">11</text><text x="796.5" y="986.0" font-size="27">0</text><rect x="918.56" y="1057.95" width="23.97" height="207.15" fill="#a8d5aa"/><rect x="942.23" y="1085.57" width="23.97" height="179.53" fill="#7ea83f"/><rect x="965.90" y="1127.00" width="23.97" height="138.10" fill="#22b8b6"/><rect x="989.57" y="1140.81" width="23.97" height="124.29" fill="#977bb8"/><rect x="1023.76" y="1044.14" width="23.97" height="220.96" fill="#a8d5aa"/><rect x="1047.43" y="1002.71" width="23.97" height="262.39" fill="#7ea83f"/><rect x="1071.10" y="1099.38" width="23.97" height="165.72" fill="#22b8b6"/><rect x="1094.77" y="1099.38" width="23.97" height="165.72" fill="#977bb8"/><rect x="1128.96" y="988.90" width="23.97" height="276.20" fill="#a8d5aa"/><rect x="1152.63" y="933.66" width="23.97" height="331.44" fill="#7ea83f"/><rect x="1176.30" y="1071.76" width="23.97" height="193.34" fill="#22b8b6"/><rect x="1199.97" y="892.23" width="23.97" height="372.87" fill="#977bb8"/><rect x="1234.16" y="1016.52" width="23.97" height="248.58" fill="#a8d5aa"/><rect x="1257.83" y="947.47" width="23.97" height="317.63" fill="#7ea83f"/><rect x="1281.50" y="1071.76" width="23.97" height="193.34" fill="#22b8b6"/><rect x="1305.17" y="961.28" width="23.97" height="303.82" fill="#977bb8"/><rect x="1339.36" y="1016.52" width="23.97" height="248.58" fill="#a8d5aa"/><rect x="1363.03" y="961.28" width="23.97" height="303.82" fill="#7ea83f"/><rect x="1386.70" y="1071.76" width="23.97" height="193.34" fill="#22b8b6"/><rect x="1410.37" y="906.04" width="23.97" height="359.06" fill="#977bb8"/><rect x="1444.56" y="1016.52" width="23.97" height="248.58" fill="#a8d5aa"/><rect x="1468.23" y="961.28" width="23.97" height="303.82" fill="#7ea83f"/><rect x="1491.90" y="1057.95" width="23.97" height="207.15" fill="#22b8b6"/><rect x="1515.57" y="864.61" width="23.97" height="400.49" fill="#977bb8"/><rect x="1549.76" y="1016.52" width="23.97" height="248.58" fill="#a8d5aa"/><rect x="1573.43" y="975.09" width="23.97" height="290.01" fill="#7ea83f"/><rect x="1597.10" y="1057.95" width="23.97" height="207.15" fill="#22b8b6"/><rect x="1620.77" y="878.42" width="23.97" height="386.68" fill="#977bb8"/><path d="M903.2,845.2V1284.4H1659.2" stroke="#000" stroke-width="3.6" fill="none"/><path d="M965.9,1286V1291.5M1071.1,1286V1291.5M1176.3,1286V1291.5M1281.5,1286V1291.5M1386.7,1286V1291.5M1491.9,1286V1291.5M1597.1,1286V1291.5" stroke="#333" stroke-width="2.2" fill="none"/><text x="892.5" y="1273.9" font-size="26" text-anchor="end">0</text><text x="892.5" y="1135.8" font-size="26" text-anchor="end">10</text><text x="892.5" y="997.7" font-size="26" text-anchor="end">20</text><text x="892.5" y="859.6" font-size="26" text-anchor="end">30</text><text x="850.1" y="1066.0" font-size="33" text-anchor="middle" transform="rotate(-90 850.1 1066.0)">Number</text><g transform="translate(981.9,1313.7) rotate(-45)"><text x="0.0" y="0.0" font-size="26" text-anchor="end">RC039</text></g><g transform="translate(1080.8,1318.1) rotate(-45)"><text x="0.0" y="0.0" font-size="26" text-anchor="end">SC205</text></g><g transform="translate(1182.6,1314.9) rotate(-45)"><text x="0.0" y="0.0" font-size="26" text-anchor="end">GT1</text></g><g transform="translate(1296.2,1310.7) rotate(-45)"><text x="0.0" y="0.0" font-size="26" text-anchor="end">MT/VB/25A 57/8</text></g><g transform="translate(1394.4,1310.2) rotate(-45)"><text x="0.0" y="0.0" font-size="26" text-anchor="end">CATAS 8-79</text></g><g transform="translate(1449.5,1362.8) rotate(-45)"><text x="0.0" y="0.0" font-size="26" text-anchor="middle">CATAS 73397</text></g><g transform="translate(1466.5,1379.8) rotate(-45)"><text x="0.0" y="0.0" font-size="26" text-anchor="middle">(scaffold)</text></g><g transform="translate(1548.7,1370.3) rotate(-45)"><text x="0.0" y="0.0" font-size="26" text-anchor="middle">CATAS 73397</text></g><g transform="translate(1565.7,1387.3) rotate(-45)"><text x="0.0" y="0.0" font-size="26" text-anchor="middle">(T2T)</text></g><text x="1669.5" y="969.2" font-size="26">Gene Type</text><rect x="1669" y="984" width="36.8" height="145.7" fill="#f2f2f2"/><path d="M1687.4,987.6V992.6M1687.4,1011.6V1016.6" stroke="#333" stroke-width="1.6"/><rect x="1673.4" y="992.6" width="28.4" height="19" fill="#a8d5aa" stroke="#333" stroke-width="1.6"/><path d="M1673.4,1002.1H1701.8" stroke="#333" stroke-width="1.6"/><text x="1717.4" y="1009.1" font-size="26">MVA</text><path d="M1687.4,1024.0V1029.0M1687.4,1048.0V1053.0" stroke="#333" stroke-width="1.6"/><rect x="1673.4" y="1029.0" width="28.4" height="19" fill="#7ea83f" stroke="#333" stroke-width="1.6"/><path d="M1673.4,1038.5H1701.8" stroke="#333" stroke-width="1.6"/><text x="1717.4" y="1045.5" font-size="26">MEP</text><path d="M1687.4,1060.5V1065.5M1687.4,1084.5V1089.5" stroke="#333" stroke-width="1.6"/><rect x="1673.4" y="1065.5" width="28.4" height="19" fill="#22b8b6" stroke="#333" stroke-width="1.6"/><path d="M1673.4,1075.0H1701.8" stroke="#333" stroke-width="1.6"/><text x="1717.4" y="1082.0" font-size="26">Initiator synthesis</text><path d="M1687.4,1097.0V1102.0M1687.4,1121.0V1126.0" stroke="#333" stroke-width="1.6"/><rect x="1673.4" y="1102.0" width="28.4" height="19" fill="#977bb8" stroke="#333" stroke-width="1.6"/><path d="M1673.4,1111.5H1701.8" stroke="#333" stroke-width="1.6"/><text x="1717.4" y="1118.5" font-size="26">Rubber elongation</text><path d="M1237.1,1704.0L1333.3,1885.0M1249.0,1682.6L1325.0,1846.7M1261.0,1662.4L1320.8,1815.0M1273.6,1657.6L1320.8,1815.0M1286.7,1654.0L1320.8,1815.0M1347.9,1650.5L1374.2,1813.3M1361.4,1649.3L1374.2,1813.3M1383.6,1648.0L1386.7,1813.3M1401.0,1634.0L1395.0,1775.8M1416.9,1620.4L1405.8,1740.8M1427.0,1622.1L1405.8,1740.8M1437.7,1623.9L1405.8,1740.8M1483.8,1670.0L1433.3,1826.7M1506.3,1662.4L1453.3,1795.8M1525.7,1653.1L1475.0,1765.0M1548.8,1630.6L1498.3,1735.8M1555.2,1650.4L1498.3,1735.8M1569.9,1660.1L1498.3,1735.8M1578.4,1708.2L1544.2,1775.0M1600.2,1705.8L1544.2,1775.0M1618.5,1700.7L1544.2,1775.0M1631.3,1711.6L1544.2,1775.0M1606.5,1749.2L1495.8,1831.7M1609.1,1767.7L1495.8,1831.7M1629.4,1891.7L1421.7,1992.9M1662.6,1935.8L1489.5,2006.0M1683.5,1950.2L1525.2,2001.2M1702.3,1963.4L1564.5,1997.6M1720.0,1974.5L1601.4,1995.2M1736.6,1983.3L1638.3,1995.6M1737.7,1993.2L1638.3,1998.6M1684.3,2068.8L1518.1,2066.7M1724.0,2100.6L1626.9,2094.3M1722.0,2112.0L1626.9,2096.3M1720.9,2124.6L1623.7,2105.8M1718.8,2133.0L1623.7,2107.8M1696.9,2151.8L1585.0,2112.0M1704.2,2171.6L1615.4,2133.0M1723.0,2196.7L1675.2,2173.8M1714.6,2211.9L1668.1,2183.3M1742.6,2213.2L1675.2,2175.8M1710.4,2217.6L1668.1,2185.3M1609.1,2223.9L1490.7,2111.9M1609.1,2262.2L1525.2,2176.2M1610.5,2286.0L1544.3,2209.5M1609.1,2301.6L1562.1,2242.9M1610.9,2330.5L1577.6,2276.2M1584.3,2313.9L1577.6,2278.2M1551.2,2298.5L1501.4,2190.5M1560.2,2356.7L1519.6,2262.0M1536.1,2323.9L1518.1,2261.9M1527.1,2339.1L1511.5,2302.4M1519.0,2357.0L1511.5,2304.4M1504.7,2359.9L1509.5,2304.4M1308.2,2297.1L1304.5,2110.4M1288.9,2311.3L1296.4,2147.9M1270.7,2325.4L1286.8,2181.8M1258.6,2322.4L1284.8,2181.8M1246.4,2320.4L1282.8,2181.8M1218.1,2281.9L1275.9,2103.2M1191.8,2287.0L1253.6,2133.6M1168.5,2292.0L1230.4,2162.1M1147.3,2294.0L1206.3,2190.7M1126.0,2300.1L1181.3,2217.5M1112.2,2308.1L1154.5,2244.3M1090.1,2310.5L1128.8,2269.3M1082.4,2302.7L1126.8,2269.3M1082.6,2160.9L1221.4,2037.1M1043.1,2156.8L1155.4,2069.3M1022.9,2153.8L1123.2,2085.4M1017.8,2143.7L1123.2,2083.4M1019.8,2116.4L1111.9,2059.7M999.6,2106.3L1073.5,2065.8M980.4,2098.2L1037.0,2069.8M963.2,2090.0L997.6,2073.8M946.0,2083.0L997.6,2071.8M945.0,2076.9L997.6,2069.8M1012.7,1987.4L1177.3,1978.0M998.6,1969.2L1140.4,1969.9M984.4,1952.0L1103.4,1961.1M971.3,1935.8L1071.6,1950.2M973.3,1927.7L1069.6,1948.2M974.3,1918.6L1069.6,1946.2M1019.8,1881.1L1153.2,1928.9M1014.8,1860.9L1122.7,1909.6M1029.8,1850.7L1133.9,1888.8M1026.9,1807.3L1106.6,1863.0M1021.9,1790.1L1106.6,1861.0M1023.1,1786.4L1083.3,1836.5M1030.2,1780.8L1083.3,1834.5M1053.3,1777.2L1124.3,1847.8M1063.7,1771.5L1133.9,1839.7M1077.3,1761.1L1133.9,1839.7M1087.4,1751.9L1133.9,1839.7" stroke="#a9a9a9" stroke-width="2.9" stroke-dasharray="7.5 5" fill="none"/><path d="M1383.3,1886.7L1405.8,1740.8M1383.3,1886.7L1395.0,1775.8M1383.3,1886.7L1386.7,1813.3M1405.0,1894.2L1498.3,1735.8M1405.0,1894.2L1475.0,1765.0M1405.0,1894.2L1453.3,1795.8M1405.0,1894.2L1433.3,1826.7M1320.5,2002.3L1285.7,1997.0L1249.6,1978.8L1069.6,1948.2M1249.6,1978.8L1103.4,1961.1M1249.6,1978.8L1140.4,1969.9M1249.6,1978.8L1177.3,1978.0M1249.6,1978.8L1220.7,1954.6L1122.7,1909.6M1220.7,1954.6L1153.2,1928.9M1220.7,1954.6L1199.8,1932.1L1133.9,1839.7M1199.8,1932.1L1124.3,1847.8M1199.8,1932.1L1083.3,1836.5M1199.8,1932.1L1106.6,1863.0M1199.8,1932.1L1133.9,1888.8M1285.7,1997.0L1251.8,2013.9L1217.9,2022.9L1100.0,2055.0L997.6,2071.8M1150.0,2044.0L1111.9,2059.7M1110.0,2054.0L1073.5,2065.8M1070.0,2061.0L1037.0,2069.8M1251.8,2013.9L1221.4,2037.1M1217.9,2022.9L1155.4,2069.3L1123.2,2085.4" stroke="#5aa972" stroke-width="9.4" stroke-linecap="round" stroke-linejoin="round" fill="none"/><path d="M1366.7,1955.0L1320.8,1815.0M1366.7,1955.0L1326.7,1851.7M1366.7,1955.0L1335.0,1888.3M1383.3,1886.7L1374.2,1813.3M1405.0,1894.2L1544.2,1775.0M1405.0,1894.2L1513.3,1795.0M1405.0,1894.2L1483.3,1817.5M1405.0,1894.2L1495.8,1831.7M1355.2,1991.7L1389.5,2011.9L1420.5,2029.8L1446.7,2054.8L1465.7,2088.1L1477.6,2121.4L1487.1,2147.6M1389.5,2010.0L1421.7,1992.9M1420.5,2029.0L1489.5,2009.0L1638.3,1997.6M1470.0,2018.0L1489.5,2006.0M1500.0,2011.0L1525.2,2001.2M1540.0,2006.0L1564.5,1997.6M1580.0,2001.0L1601.4,1995.2M1446.7,2054.8L1482.4,2066.7L1518.1,2066.7M1482.4,2066.7L1513.3,2081.0L1626.9,2094.3M1513.3,2081.0L1623.7,2105.8M1513.3,2081.0L1582.4,2111.9L1675.2,2173.8M1582.4,2111.9L1668.1,2183.3M1560.0,2100.0L1672.0,2178.0M1600.0,2125.0L1671.0,2180.0M1560.0,2102.0L1585.0,2112.0M1590.0,2118.0L1615.4,2133.0M1465.7,2088.1L1490.7,2111.9M1482.4,2131.0L1525.2,2176.2L1544.3,2209.5L1562.1,2242.9L1577.6,2276.2M1487.1,2147.6L1501.4,2190.5L1518.1,2261.9M1487.1,2147.6L1499.0,2200.0L1511.5,2302.4M1320.5,2002.3L1307.1,2037.1L1278.6,2083.6L1126.8,2269.3M1283.0,2090.0L1275.9,2103.2M1262.0,2115.0L1253.6,2133.6M1238.0,2144.0L1230.4,2162.1M1214.0,2173.0L1206.3,2190.7M1189.0,2203.0L1181.3,2217.5M1163.0,2234.0L1154.5,2244.3M1307.1,2037.1L1305.4,2069.3L1304.5,2110.4M1305.4,2069.3L1296.4,2140.7L1284.8,2181.8M1298.0,2130.0L1296.4,2147.9" stroke="#2f6f9e" stroke-width="9.4" stroke-linecap="round" stroke-linejoin="round" fill="none"/><path d="M1320.5,2002.3L1355.2,1991.7M1355.2,1991.7L1366.7,1955.0L1381.7,1921.7M1381.7,1921.7L1383.3,1886.7M1381.7,1921.7L1405.0,1894.2" stroke="#000" stroke-width="2" fill="none"/><text transform="translate(1230.0,1692.1) rotate(60.8)" dy="0.34em" font-size="19" fill="#2f6f9e" text-anchor="end">XJ.SRPP5</text><text transform="translate(1244.3,1670.7) rotate(65.4)" dy="0.34em" font-size="19" fill="#4f9f66" text-anchor="end">879.REF8</text><text transform="translate(1254.3,1650.5) rotate(68.5)" dy="0.34em" font-size="19" fill="#2f6f9e" text-anchor="end">GT1.SRPP5</text><text transform="translate(1273.6,1645.7) rotate(71.0)" dy="0.34em" font-size="19" fill="#2f6f9e" text-anchor="end">73397 T2T.SRPP5</text><text transform="translate(1291.0,1642.0) rotate(75.2)" dy="0.34em" font-size="19" fill="#2f6f9e" text-anchor="end">73397 scaffold.SRPP5</text><text transform="translate(1343.8,1638.1) rotate(77.7)" dy="0.34em" font-size="19" fill="#2f6f9e" text-anchor="end">73397 T2T.SRPP3</text><text transform="translate(1363.0,1635.0) rotate(83.4)" dy="0.34em" font-size="19" fill="#2f6f9e" text-anchor="end">73397 scaffold16.SRPP3</text><text transform="translate(1384.2,1632.9) rotate(-89.6)" dy="0.34em" font-size="19" fill="#4f9f66">XJ.REF6</text><text transform="translate(1400.8,1620.4) rotate(-87.7)" dy="0.34em" font-size="19" fill="#4f9f66">879.REF9</text><text transform="translate(1417.5,1606.7) rotate(-84.2)" dy="0.34em" font-size="19" fill="#4f9f66">GT1.REF6</text><text transform="translate(1436.5,1584.0) rotate(-79.4)" dy="0.34em" font-size="19" fill="#4f9f66">73397 T2T.REF6</text><text transform="translate(1446.7,1607.9) rotate(-76.3)" dy="0.34em" font-size="19" fill="#4f9f66">73397 scaffold.REF6</text><text transform="translate(1484.6,1658.4) rotate(-68.0)" dy="0.34em" font-size="19" fill="#4f9f66">XJ.REF7</text><text transform="translate(1510.0,1650.3) rotate(-65.7)" dy="0.34em" font-size="19" fill="#4f9f66">GT1.REF5</text><text transform="translate(1531.5,1642.0) rotate(-62.6)" dy="0.34em" font-size="19" fill="#2f6f9e">879.SRPP6</text><text transform="translate(1555.1,1619.8) rotate(-59.7)" dy="0.34em" font-size="19" fill="#4f9f66">73397 scaffold.REF7</text><text transform="translate(1562.2,1640.0) rotate(-55.9)" dy="0.34em" font-size="19" fill="#4f9f66">GT1.REF7</text><text transform="translate(1577.4,1650.1) rotate(-53.0)" dy="0.34em" font-size="19" fill="#4f9f66">73397 T2T.REF7</text><text transform="translate(1586.5,1698.7) rotate(-49.7)" dy="0.34em" font-size="19" fill="#2f6f9e">879.SRPP5</text><text transform="translate(1608.8,1696.7) rotate(-46.6)" dy="0.34em" font-size="19" fill="#2f6f9e">XJ.SRPP1</text><text transform="translate(1628.0,1692.6) rotate(-40.6)" dy="0.34em" font-size="19" fill="#2f6f9e">GT1.SRPP2</text><text transform="translate(1641.1,1703.8) rotate(-38.7)" dy="0.34em" font-size="19" fill="#2f6f9e">GT1.SRPP1</text><text transform="translate(1616.9,1742.2) rotate(-34.0)" dy="0.34em" font-size="19" fill="#2f6f9e">73397 T2T.SRPP1</text><text transform="translate(1619.9,1761.4) rotate(-30.3)" dy="0.34em" font-size="19" fill="#2f6f9e">73397 scaffold.SRPP1</text><text transform="translate(1640.5,1885.0) rotate(-24.5)" dy="0.34em" font-size="19" fill="#2f6f9e">SC025.SRPP8</text><text transform="translate(1678.0,1929.2) rotate(-23.0)" dy="0.34em" font-size="19" fill="#2f6f9e">SC025.SRPP2</text><text transform="translate(1695.7,1944.7) rotate(-20.2)" dy="0.34em" font-size="19" fill="#2f6f9e">RC.SRPP2</text><text transform="translate(1714.5,1957.9) rotate(-18.4)" dy="0.34em" font-size="19" fill="#2f6f9e">XJ.SRPP2</text><text transform="translate(1736.6,1969.0) rotate(-15.0)" dy="0.34em" font-size="19" fill="#2f6f9e">879.SRPP7</text><text transform="translate(1752.0,1977.8) rotate(-6.7)" dy="0.34em" font-size="19" fill="#2f6f9e">73397 T2T.SRPP2</text><text transform="translate(1739.9,1993.2) rotate(-3.3)" dy="0.34em" font-size="19" fill="#2f6f9e">73397 scaffold.SRPP2</text><text transform="translate(1700.0,2069.3) rotate(0.0)" dy="0.34em" font-size="19" fill="#2f6f9e">SC025.SRPP4</text><text transform="translate(1747.0,2097.5) rotate(4.7)" dy="0.34em" font-size="19" fill="#2f6f9e">73397 T2T.SRPP10</text><text transform="translate(1725.1,2110.0) rotate(8.3)" dy="0.34em" font-size="19" fill="#2f6f9e">73397 scaffold.SRPP10</text><text transform="translate(1734.5,2125.7) rotate(12.0)" dy="0.34em" font-size="19" fill="#2f6f9e">879.SRPP2</text><text transform="translate(1729.2,2139.2) rotate(14.3)" dy="0.34em" font-size="19" fill="#2f6f9e">GT1.SRPP10</text><text transform="translate(1713.6,2156.0) rotate(20.5)" dy="0.34em" font-size="19" fill="#2f6f9e">RC.SRPP4</text><text transform="translate(1716.7,2173.7) rotate(22.9)" dy="0.34em" font-size="19" fill="#2f6f9e">XJ.SRPP4</text><text transform="translate(1743.9,2200.9) rotate(26.2)" dy="0.34em" font-size="19" fill="#2f6f9e">73397 T2T.SRPP4</text><text transform="translate(1725.1,2218.6) rotate(32.6)" dy="0.34em" font-size="19" fill="#2f6f9e">879.SRPP1</text><text transform="translate(1753.3,2219.7) rotate(31.5)" dy="0.34em" font-size="19" fill="#2f6f9e">73397 scaffold.SRP4</text><text transform="translate(1716.7,2229.1) rotate(37.2)" dy="0.34em" font-size="19" fill="#2f6f9e">GT1.SRPP4</text><text transform="translate(1620.0,2234.0) rotate(40.5)" dy="0.34em" font-size="19" fill="#2f6f9e">RC.SRPP7</text><text transform="translate(1617.8,2271.1) rotate(45.7)" dy="0.34em" font-size="19" fill="#2f6f9e">SC025.SRPP6</text><text transform="translate(1618.8,2295.4) rotate(48.6)" dy="0.34em" font-size="19" fill="#2f6f9e">XJ.SRPP6</text><text transform="translate(1616.8,2311.5) rotate(52.1)" dy="0.34em" font-size="19" fill="#2f6f9e">GT1.SRPP6</text><text transform="translate(1617.8,2340.9) rotate(56.5)" dy="0.34em" font-size="19" fill="#2f6f9e">73397 T2T.SRPP6</text><text transform="translate(1590.5,2324.7) rotate(60.1)" dy="0.34em" font-size="19" fill="#2f6f9e">73397 scaffold.SRPP6</text><text transform="translate(1557.1,2309.5) rotate(61.6)" dy="0.34em" font-size="19" fill="#2f6f9e">SC025.SRPP7</text><text transform="translate(1565.2,2368.2) rotate(66.4)" dy="0.34em" font-size="19" fill="#2f6f9e">73397 T2T.SRPP7</text><text transform="translate(1539.9,2335.8) rotate(72.3)" dy="0.34em" font-size="19" fill="#2f6f9e">73397 scaffold.SRPP7</text><text transform="translate(1530.8,2351.0) rotate(72.8)" dy="0.34em" font-size="19" fill="#2f6f9e">XJ.SRPP7</text><text transform="translate(1521.7,2369.2) rotate(77.5)" dy="0.34em" font-size="19" fill="#2f6f9e">879.SRPP8</text><text transform="translate(1506.5,2372.3) rotate(81.5)" dy="0.34em" font-size="19" fill="#2f6f9e">GT1.SRPP7</text><text transform="translate(1309.2,2309.2) rotate(89.3)" dy="0.34em" font-size="19" fill="#2f6f9e">XJ.SRPP8</text><text transform="translate(1287.9,2326.4) rotate(-88.7)" dy="0.34em" font-size="19" fill="#2f6f9e" text-anchor="end">879.SRPP4</text><text transform="translate(1270.7,2335.5) rotate(-85.0)" dy="0.34em" font-size="19" fill="#2f6f9e" text-anchor="end">GT1.SRPP8</text><text transform="translate(1257.6,2332.5) rotate(-81.1)" dy="0.34em" font-size="19" fill="#2f6f9e" text-anchor="end">73397 T2T.SRPP8</text><text transform="translate(1242.4,2329.5) rotate(-76.2)" dy="0.34em" font-size="19" fill="#2f6f9e" text-anchor="end">73397 scaffold.SRPP8</text><text transform="translate(1213.0,2301.1) rotate(-73.2)" dy="0.34em" font-size="19" fill="#2f6f9e" text-anchor="end">GT1.SRPP9</text><text transform="translate(1188.8,2303.2) rotate(-69.0)" dy="0.34em" font-size="19" fill="#2f6f9e" text-anchor="end">GT1.SRPP3</text><text transform="translate(1164.5,2306.2) rotate(-64.6)" dy="0.34em" font-size="19" fill="#2f6f9e" text-anchor="end">XJ.SRPP10</text><text transform="translate(1147.0,2304.0) rotate(-58.5)" dy="0.34em" font-size="19" fill="#2f6f9e" text-anchor="end">73397 T2T.SRPP9</text><text transform="translate(1122.0,2315.0) rotate(-56.0)" dy="0.34em" font-size="19" fill="#2f6f9e" text-anchor="end">879.SRPP3</text><text transform="translate(1104.5,2318.0) rotate(-52.0)" dy="0.34em" font-size="19" fill="#2f6f9e" text-anchor="end">73397 T2T.SRPP11</text><text transform="translate(1082.0,2320.0) rotate(-49.6)" dy="0.34em" font-size="19" fill="#2f6f9e" text-anchor="end">XJ.SRPP9</text><text transform="translate(1073.5,2311.5) rotate(-44.8)" dy="0.34em" font-size="19" fill="#2f6f9e" text-anchor="end">73397 scaffold.SRPP9</text><text transform="translate(1073.5,2174.0) rotate(-37.7)" dy="0.34em" font-size="19" fill="#4f9f66" text-anchor="end">GT1.REF1</text><text transform="translate(1038.0,2169.0) rotate(-36.6)" dy="0.34em" font-size="19" fill="#4f9f66" text-anchor="end">XJ.REF1</text><text transform="translate(1021.9,2162.9) rotate(-33.1)" dy="0.34em" font-size="19" fill="#4f9f66" text-anchor="end">73397 T2T.REF1</text><text transform="translate(1015.8,2149.8) rotate(-28.5)" dy="0.34em" font-size="19" fill="#4f9f66" text-anchor="end">73397 scaffold.REF1</text><text transform="translate(1010.7,2127.5) rotate(-24.5)" dy="0.34em" font-size="19" fill="#4f9f66" text-anchor="end">879.REF4</text><text transform="translate(990.5,2119.4) rotate(-22.5)" dy="0.34em" font-size="19" fill="#4f9f66" text-anchor="end">879.REF2</text><text transform="translate(971.3,2112.3) rotate(-19.5)" dy="0.34em" font-size="19" fill="#4f9f66" text-anchor="end">GT1.REF2</text><text transform="translate(951.0,2103.2) rotate(-16.3)" dy="0.34em" font-size="19" fill="#4f9f66" text-anchor="end">GT1.REF4</text><text transform="translate(939.9,2091.1) rotate(-10.9)" dy="0.34em" font-size="19" fill="#4f9f66" text-anchor="end">73397 T2T.REF2</text><text transform="translate(946.0,2077.9) rotate(-6.8)" dy="0.34em" font-size="19" fill="#4f9f66" text-anchor="end">73397 scaffold.REF2</text><text transform="translate(999.6,1990.4) rotate(-3.1)" dy="0.34em" font-size="19" fill="#4f9f66" text-anchor="end">879.REF6</text><text transform="translate(982.4,1971.2) rotate(1.5)" dy="0.34em" font-size="19" fill="#4f9f66" text-anchor="end">879.REF7</text><text transform="translate(972.3,1951.0) rotate(5.9)" dy="0.34em" font-size="19" fill="#4f9f66" text-anchor="end">XJ.REF8</text><text transform="translate(955.1,1937.8) rotate(9.1)" dy="0.34em" font-size="19" fill="#4f9f66" text-anchor="end">GT1.REF8</text><text transform="translate(966.2,1924.6) rotate(12.7)" dy="0.34em" font-size="19" fill="#4f9f66" text-anchor="end">73397 T2T.REF8</text><text transform="translate(971.3,1911.5) rotate(16.3)" dy="0.34em" font-size="19" fill="#4f9f66" text-anchor="end">73397 scaffold.REF8</text><text transform="translate(1009.7,1875.1) rotate(20.3)" dy="0.34em" font-size="19" fill="#4f9f66" text-anchor="end">XJ.REF5</text><text transform="translate(1012.7,1859.9) rotate(24.0)" dy="0.34em" font-size="19" fill="#4f9f66" text-anchor="end">73397 scaffold.REF5</text><text transform="translate(1018.8,1844.7) rotate(28.5)" dy="0.34em" font-size="19" fill="#4f9f66" text-anchor="end">73397 T2T.REF5</text><text transform="translate(1005.4,1810.2) rotate(32.6)" dy="0.34em" font-size="19" fill="#4f9f66" text-anchor="end">73397 scaffold.REF4</text><text transform="translate(1013.2,1797.2) rotate(36.0)" dy="0.34em" font-size="19" fill="#4f9f66" text-anchor="end">73397 T2T.REF4</text><text transform="translate(1013.2,1778.8) rotate(37.4)" dy="0.34em" font-size="19" fill="#4f9f66" text-anchor="end">879.REF5</text><text transform="translate(1021.1,1772.3) rotate(43.0)" dy="0.34em" font-size="19" fill="#4f9f66" text-anchor="end">879.REF3</text><text transform="translate(1044.6,1768.3) rotate(45.7)" dy="0.34em" font-size="19" fill="#4f9f66" text-anchor="end">879.REF1</text><text transform="translate(1055.8,1761.8) rotate(50.8)" dy="0.34em" font-size="19" fill="#4f9f66" text-anchor="end">GT1.REF3</text><text transform="translate(1069.5,1751.3) rotate(51.6)" dy="0.34em" font-size="19" fill="#4f9f66" text-anchor="end">73397 T2T.REF3</text><text transform="translate(1080.7,1741.4) rotate(57.5)" dy="0.34em" font-size="19" fill="#4f9f66" text-anchor="end">73397 scaffold.REF3</text>
</svg></body></html>
